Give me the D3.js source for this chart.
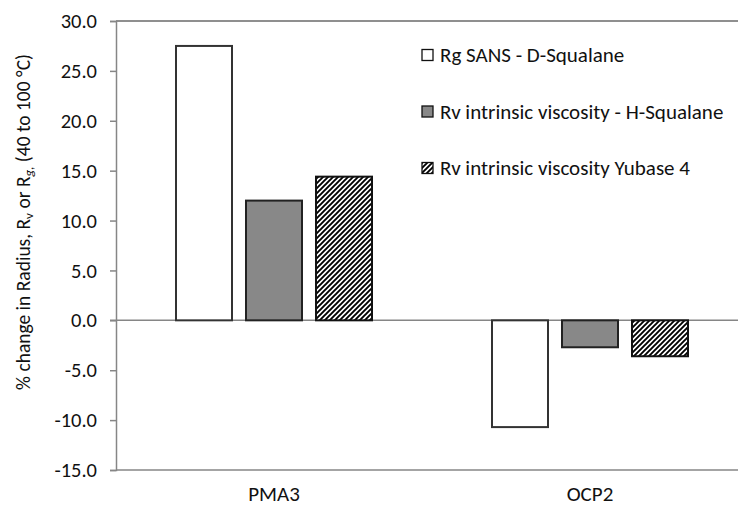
<!DOCTYPE html>
<html><head><meta charset="utf-8">
<script src="https://cdn.jsdelivr.net/npm/d3@7"></script>
<style>body{margin:0;background:#fff}svg{display:block}text{font-family:Carlito,Lato,"Open Sans",sans-serif;fill:#111}</style>
</head><body><svg id="c" width="738" height="506"></svg>
<script>
const categories = ["PMA3", "OCP2"];
const seriesNames = ["Rg SANS - D-Squalane", "Rv intrinsic viscosity - H-Squalane", "Rv intrinsic viscosity Yubase 4"];
const rgSans = [27.5, -10.7];
const rvHSqualane = [12.0, -2.7];
const rvYubase = [14.4, -3.6];
const yTicks = [30, 25, 20, 15, 10, 5, 0, -5, -10, -15];

const series = [rgSans, rvHSqualane, rvYubase];
const svg = d3.select("#c");
const defs = svg.append("defs");
const pat = defs.append("pattern").attr("id","hatch").attr("patternUnits","userSpaceOnUse")
  .attr("width",5).attr("height",5);
pat.append("rect").attr("width",5).attr("height",5).attr("fill","#fff");
pat.append("path").attr("d","M-1,6 L6,-1 M-1,1 L1,-1 M4,6 L6,4").attr("stroke","#000").attr("stroke-width",1.9);

const fills = ["#ffffff", "#888888", "url(#hatch)"];
const strokes = ["#333", "#222", "#111"];
const L = 116, R = 748, T = 21, B = 470;
const y = d3.scaleLinear().domain([-15, 30]).range([B, T]);
const x = d3.scaleBand().domain(categories).range([L, R]);
const xi = d3.scaleBand().domain(d3.range(3)).range([-98, 98]).paddingInner(0.2).paddingOuter(0);

const axisColor = "#868686";
svg.append("line").attr("x1",L).attr("x2",R).attr("y1",T).attr("y2",T).attr("stroke","#6a6a6a").attr("stroke-width",1.5);
svg.append("line").attr("x1",L).attr("x2",R).attr("y1",B).attr("y2",B).attr("stroke",axisColor).attr("stroke-width",1.5);

const fmt = d => d.toFixed(1);
const yAxis = d3.axisLeft(y).tickValues(yTicks).tickFormat(fmt).tickSize(6).tickPadding(13);
const ga = svg.append("g").attr("transform",`translate(${L},0)`).call(yAxis);
ga.select(".domain").attr("stroke",axisColor).attr("stroke-width",1.5);
ga.selectAll(".tick line").attr("stroke",axisColor).attr("stroke-width",1.5);
ga.selectAll(".tick text").attr("font-size",20.5).attr("fill","#111").style("font-family","Carlito,Lato,sans-serif");

svg.append("line").attr("x1",L-6).attr("x2",R).attr("y1",y(0)).attr("y2",y(0)).attr("stroke",axisColor).attr("stroke-width",1.5);

categories.forEach((c, ci) => {
  series.forEach((s, si) => {
    const v = s[ci];
    const cx = x(c) + x.bandwidth()/2;
    svg.append("rect")
      .attr("x", cx + xi(si)).attr("width", xi.bandwidth())
      .attr("y", y(Math.max(0, v))).attr("height", Math.abs(y(v) - y(0)))
      .attr("fill", fills[si]).attr("stroke", strokes[si]).attr("stroke-width", 2);
  });
});

svg.selectAll(".cat").data(categories).enter().append("text")
  .attr("x", d => x(d) + x.bandwidth()/2).attr("y", 501)
  .attr("text-anchor","middle").attr("font-size",21).text(d => d);

const legY = [55, 111.5, 168];
seriesNames.forEach((n, i) => {
  svg.append("rect").attr("x",422).attr("y",legY[i]-5.5).attr("width",11).attr("height",11)
    .attr("fill",fills[i]).attr("stroke","#111").attr("stroke-width",1.3);
  svg.append("text").attr("x",440).attr("y",legY[i]+7).attr("font-size",21).text(n);
});

const t = svg.append("text").attr("transform","translate(30,222) rotate(-90)")
  .attr("text-anchor","middle").attr("font-size",19.5);
t.append("tspan").text("% change in Radius, R");
t.append("tspan").attr("baseline-shift","-25%").attr("font-size",13).text("v");
t.append("tspan").text(" or R");
t.append("tspan").attr("baseline-shift","-25%").attr("font-size",13).attr("font-style","italic").text("g,");
t.append("tspan").text(" (40 to 100 °C)");
</script></body></html>
